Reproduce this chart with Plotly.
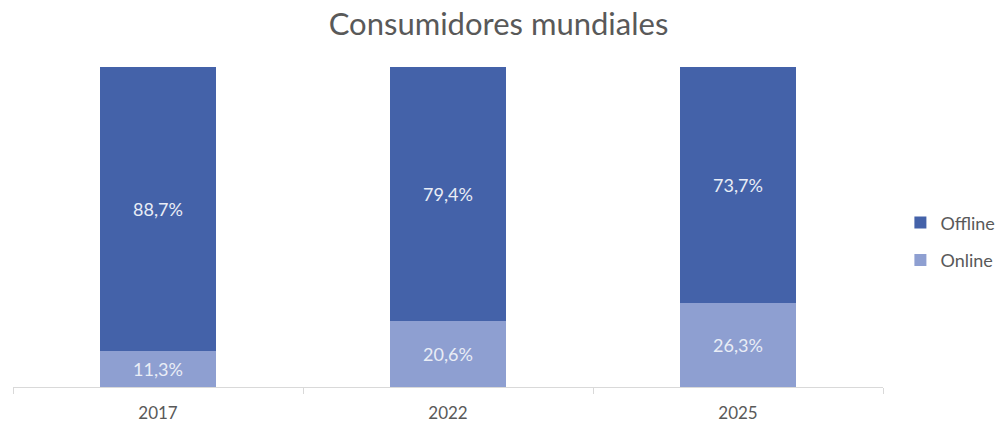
import plotly.graph_objects as go

years = ["2017", "2022", "2025"]
online = [11.3, 20.6, 26.3]
offline = [88.7, 79.4, 73.7]

online_labels = ["11,3%", "20,6%", "26,3%"]
offline_labels = ["88,7%", "79,4%", "73,7%"]

font_family = "Lato, 'Open Sans', sans-serif"
label_color = "#e9edf6"

fig = go.Figure()
fig.add_trace(go.Bar(
    x=years, y=online, name="Online", legendgroup="on", legendrank=2,
    marker=dict(color="#8e9fd1", line=dict(width=0)),
    text=online_labels, textposition="inside", insidetextanchor="middle",
    textfont=dict(color=label_color, size=18, family=font_family),
    hoverinfo="skip",
))
fig.add_trace(go.Bar(
    x=years, y=offline, name="Offline", legendgroup="off", legendrank=1,
    marker=dict(color="#4462a9", line=dict(width=0)),
    text=offline_labels, textposition="inside", insidetextanchor="middle",
    textfont=dict(color=label_color, size=18, family=font_family),
    hoverinfo="skip",
))

fig.update_layout(
    barmode="stack",
    bargap=0.6,
    width=997, height=427,
    margin=dict(l=13, r=114, t=67, b=40, autoexpand=False),
    paper_bgcolor="white", plot_bgcolor="white",
    font=dict(family=font_family, color="#595959"),
    title=dict(text="Consumidores mundiales", x=0.5, xref="container",
               xanchor="center",
               y=1 - 24 / 427, yref="container", yanchor="middle",
               font=dict(size=31, color="#595959", family=font_family)),
    showlegend=True,
    legend=dict(x=1.02, xanchor="left", y=0.455, yanchor="middle",
                traceorder="grouped", tracegroupgap=11,
                font=dict(size=18, color="#595959", family=font_family),
                itemwidth=30, bgcolor="rgba(0,0,0,0)"),
)

fig.update_xaxes(
    type="category", showline=True, linecolor="#d9d9d9", linewidth=1,
    ticks="outside", tickson="boundaries", ticklen=6, tickcolor="#d9d9d9",
    ticklabelstandoff=11,
    tickfont=dict(size=17, color="#595959", family=font_family),
    showgrid=False, zeroline=False, fixedrange=True,
)
fig.update_yaxes(range=[0, 100], visible=False, showgrid=False, fixedrange=True)

fig.write_html("out.html")
